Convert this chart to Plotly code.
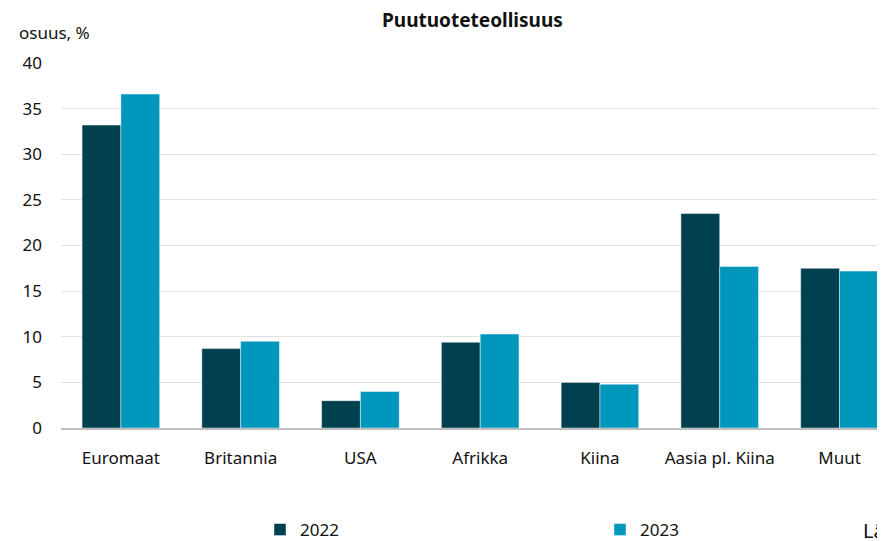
import plotly.graph_objects as go

categories = ["Euromaat", "Britannia", "USA", "Afrikka", "Kiina", "Aasia pl. Kiina", "Muut"]
share_2022 = [33.2, 8.7, 3.0, 9.4, 5.0, 23.5, 17.5]
share_2023 = [36.6, 9.5, 4.0, 10.3, 4.8, 17.7, 17.2]

FONT = "Noto Sans"
OFF = 8  # page body margin
W, H = 885 - OFF, 541 - OFF
ML, MT, MB = 61 - OFF, 63 - OFF, 113
PW, PH = W - ML, H - MT - MB


def px_x(x):
    # screen pixel -> paper fraction
    return (x - OFF - ML) / PW


def px_y(y):
    return (H - MB - (y - OFF)) / PH


fig = go.Figure()
fig.add_trace(go.Bar(
    x=categories, y=share_2022, name="2022", legend="legend",
    marker=dict(color="#00404f", line=dict(color="rgba(255,255,255,0.45)", width=1)),
))
fig.add_trace(go.Bar(
    x=categories, y=share_2023, name="2023", legend="legend2",
    marker=dict(color="#0097bd", line=dict(color="rgba(255,255,255,0.45)", width=1)),
))

leg = dict(
    orientation="h", xanchor="left", yanchor="middle",
    yref="container", y=1 - (530 - OFF) / H,
    font=dict(size=17), itemwidth=30, bgcolor="rgba(0,0,0,0)",
)

fig.update_layout(
    width=W, height=H,
    margin=dict(l=ML, r=0, t=MT, b=MB, autoexpand=False),
    plot_bgcolor="white", paper_bgcolor="white",
    font=dict(family=FONT, size=17, color="#111111"),
    barmode="group", bargap=0.352, bargroupgap=0,
    showlegend=True,
    legend=dict(leg, x=px_x(260)),
    legend2=dict(leg, x=px_x(600)),
    xaxis=dict(
        range=[-0.5, 6.38], showgrid=False, ticks="", showline=True,
        linecolor="#bdbdbd", linewidth=1.5, tickfont=dict(size=17),
        ticklabelstandoff=14, automargin=False,
    ),
    yaxis=dict(
        range=[0, 40], dtick=5, showgrid=True, gridcolor="#e0e0e0", gridwidth=1.3,
        zeroline=False, showline=False, ticks="", tickfont=dict(size=17),
        ticklabelstandoff=18, automargin=False,
    ),
)

fig.add_annotation(
    text="<b>Puutuoteteollisuus</b>", xref="paper", yref="paper",
    x=px_x(472), y=px_y(20),
    xanchor="center", yanchor="middle", showarrow=False, font=dict(size=19),
)
fig.add_annotation(
    text="osuus, %", xref="paper", yref="paper",
    x=px_x(17), y=px_y(33),
    xanchor="left", yanchor="middle", showarrow=False, font=dict(size=17),
)
fig.add_annotation(
    text="Lähde: Tilastokeskus", xref="paper", yref="paper",
    x=px_x(861), y=px_y(530),
    xanchor="left", yanchor="middle", showarrow=False, font=dict(size=20),
)

fig.write_html("out.html")
